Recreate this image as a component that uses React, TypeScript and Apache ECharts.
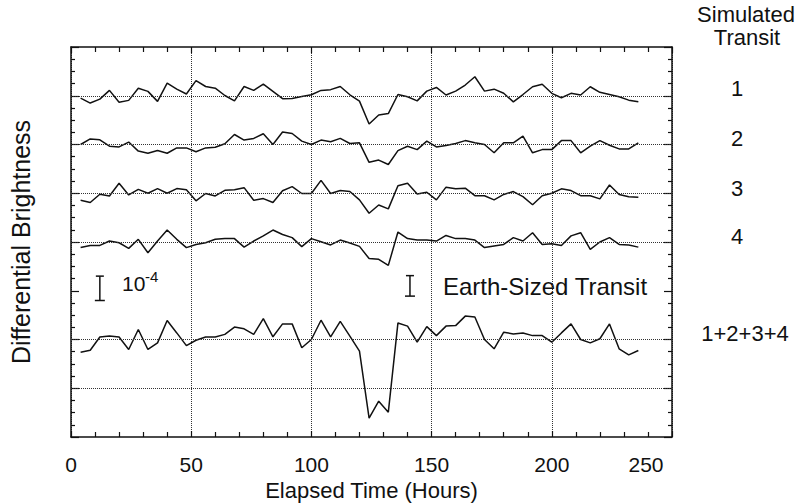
import React, { useEffect, useRef } from "react";
import * as echarts from "echarts";

// Elapsed time of each sample (hours)
const hours = [4, 8, 12, 16, 20, 24, 28, 32, 36, 40, 44, 48, 52, 56, 60, 64, 68, 72, 76, 80, 84, 88, 92, 96, 100, 104, 108, 112, 116, 120, 124, 128, 132, 136, 140, 144, 148, 152, 156, 160, 164, 168, 172, 176, 180, 184, 188, 192, 196, 200, 204, 208, 212, 216, 220, 224, 228, 232, 236];

// Brightness deviations (units of 1e-4) for each simulated transit
const transit1 = [-0.10, -0.30, -0.14, 0.22, -0.27, -0.19, 0.31, 0.18, -0.23, 0.52, 0.27, 0.07, 0.62, 0.38, 0.31, 0.01, -0.21, 0.38, 0.22, 0.48, 0.18, -0.12, -0.11, -0.03, 0.04, 0.22, 0.25, 0.38, 0.04, -0.22, -1.16, -0.79, -0.73, 0.05, -0.04, -0.21, 0.19, 0.34, 0.03, 0.19, 0.44, 0.78, 0.19, 0.27, 0.10, -0.25, 0.05, 0.37, 0.47, 0.10, -0.08, 0.10, 0.03, 0.37, 0.14, 0.05, -0.04, -0.18, -0.25];
const transit2 = [0, 0.23, 0.19, -0.07, -0.10, 0.10, -0.27, -0.36, -0.25, -0.36, -0.14, -0.14, -0.30, -0.14, -0.11, 0.03, 0.41, 0.18, 0.25, 0.44, 0, 0.51, 0.45, 0.14, 0, 0.18, 0.11, 0.25, 0.04, 0.07, -0.73, -0.64, -0.82, -0.25, -0.07, -0.21, 0.14, -0.10, -0.04, 0.04, 0.16, 0.07, 0, -0.34, 0.07, 0.07, 0.34, -0.34, -0.21, -0.21, 0.16, 0.16, -0.34, -0.07, 0.16, -0.03, -0.18, -0.18, 0.07];
const transit3 = [-0.29, -0.38, -0.04, -0.11, 0.41, -0.07, 0.16, 0, 0.19, 0, 0.19, 0.14, -0.31, -0.01, -0.11, 0.12, 0.14, 0.23, -0.29, -0.22, -0.38, 0.10, 0.27, -0.01, -0.01, 0.53, -0.01, 0.11, 0.07, -0.27, -0.82, -0.48, -0.64, 0.31, 0.41, -0.03, 0.04, -0.27, 0.25, 0.18, 0.21, -0.10, -0.10, -0.27, -0.05, 0.07, -0.14, -0.47, -0.10, 0, 0.18, 0.11, -0.10, -0.10, -0.23, 0.34, -0.05, -0.14, -0.16];
const transit4 = [-0.23, -0.14, -0.14, 0.04, -0.03, -0.26, 0.11, -0.44, 0.04, 0.49, 0.11, -0.23, -0.10, -0.03, 0.11, 0.14, 0.14, -0.21, 0.04, 0.25, 0.49, 0.31, 0.18, -0.19, 0.14, 0.01, -0.12, 0.08, -0.04, -0.18, -0.68, -0.71, -0.96, 0.41, 0.14, 0.08, 0.08, 0.04, 0.27, 0.14, 0.14, 0.08, -0.23, -0.16, -0.10, 0.18, 0.04, 0.38, -0.10, -0.07, -0.14, 0.25, 0.38, -0.30, 0, 0.18, -0.10, -0.12, -0.21];
const transitSum = [-0.52, -0.44, 0.10, 0.14, 0.10, -0.41, 0.41, -0.41, -0.14, 0.78, 0.27, -0.25, -0.03, 0.10, 0.10, 0.21, 0.51, 0.44, 0.21, 0.86, 0.11, 0.64, 0.64, -0.34, 0, 0.79, 0.11, 0.74, 0.14, -0.48, -3.23, -2.53, -2.98, 0.68, 0.55, -0.11, 0.53, 0.16, 0.55, 0.57, 0.96, 0.92, 0, -0.38, 0.30, 0.23, 0.27, 0.16, 0.16, -0.11, 0.27, 0.64, 0, -0.14, 0.03, 0.64, -0.38, -0.63, -0.45];

const seriesNames = ["1", "2", "3", "4", "1+2+3+4"];
const seriesValues = [transit1, transit2, transit3, transit4, transitSum];
const seriesOffsets = [14, 12, 10, 8, 4];
const referenceLevels = [14, 12, 10, 8, 4, 2];

// Scale bars: [hour, low, high] in units of 1e-4
const scaleBars = [
  [12, 5.6, 6.6],
  [141, 5.78, 6.62],
];

const xTicks = [0, 50, 100, 150, 200, 250];

const FONT = "'Liberation Sans', Arial, Helvetica, sans-serif";
const GRID = { left: 71, top: 47, width: 601, height: 390 };

export default function App() {
  const ref = useRef<HTMLDivElement>(null);

  useEffect(() => {
    if (!ref.current) return;
    const chart = echarts.init(ref.current, undefined, { renderer: "svg" });

    const axisLine = { show: true, onZero: false, lineStyle: { color: "#111", width: 1.5 } };
    const hiddenLine = { show: false, onZero: false };
    const tickStyle = { color: "#111", width: 1.2 };
    const xRange = { type: "value", min: xTicks[0], max: xTicks[xTicks.length - 1], interval: 50 };
    const yRange = { type: "value", min: 0, max: 16, interval: 2 };
    const noLabel = { show: false };
    const noSplit = { show: false };

    // Tick-only axes: placed on the opposite edge so that outward ticks point into the plot
    const xTickAxis = (pos: string) => ({
      ...xRange,
      position: pos,
      offset: -GRID.height,
      axisLine: hiddenLine,
      axisLabel: noLabel,
      splitLine: noSplit,
      axisTick: { show: true, inside: false, length: 6, lineStyle: tickStyle },
      minorTick: { show: true, splitNumber: 5, length: 5, lineStyle: tickStyle },
    });
    const yTickAxis = (pos: string) => ({
      ...yRange,
      position: pos,
      offset: -GRID.width,
      axisLine: hiddenLine,
      axisLabel: noLabel,
      splitLine: noSplit,
      axisTick: { show: true, inside: false, length: 8, lineStyle: tickStyle },
      minorTick: { show: true, splitNumber: 4, length: 4, lineStyle: tickStyle },
    });

    const lineSeries = seriesValues.map((vals, i) => ({
      name: seriesNames[i],
      type: "line",
      xAxisIndex: 0,
      yAxisIndex: 0,
      symbol: "none",
      silent: true,
      lineStyle: { color: "#111", width: 1.5 },
      data: vals.map((v, j) => [hours[j], +(seriesOffsets[i] + v).toFixed(3)]),
      ...(i === 0
        ? {
            markLine: {
              silent: true,
              symbol: ["none", "none"],
              label: { show: false },
              lineStyle: { type: "dotted", color: "#333", width: 1 },
              data: referenceLevels.map((y) => ({ yAxis: y })),
            },
          }
        : {}),
    }));

    const barSeries = {
      type: "custom",
      xAxisIndex: 0,
      yAxisIndex: 0,
      silent: true,
      data: scaleBars,
      renderItem: (params: any, api: any) => {
        const top = api.coord([api.value(0), api.value(2)]);
        const bot = api.coord([api.value(0), api.value(1)]);
        const w = 5;
        const st = { stroke: "#111", lineWidth: 1.5 };
        return {
          type: "group",
          children: [
            { type: "line", shape: { x1: top[0], y1: top[1], x2: bot[0], y2: bot[1] }, style: st },
            { type: "line", shape: { x1: top[0] - w + 1, y1: top[1], x2: top[0] + w - 1, y2: top[1] }, style: st },
            { type: "line", shape: { x1: bot[0] - w, y1: bot[1], x2: bot[0] + w, y2: bot[1] }, style: st },
          ],
        };
      },
    };

    const labelFont = { fontFamily: FONT, fontSize: 22, fill: "#111" };

    chart.setOption({
      animation: false,
      backgroundColor: "#fff",
      grid: { ...GRID, containLabel: false, outerBoundsMode: "none" },
      xAxis: [
        {
          ...xRange,
          position: "bottom",
          name: "Elapsed Time (Hours)",
          nameLocation: "middle",
          nameGap: 40,
          nameTextStyle: { fontFamily: FONT, fontSize: 22, color: "#111" },
          axisLine,
          axisTick: { show: false },
          axisLabel: {
            show: true,
            margin: 17,
            fontFamily: FONT,
            fontSize: 21,
            color: "#111",
            formatter: (v: number) => (v === 250 ? "{last|250}" : String(v)),
            rich: { last: { fontFamily: FONT, fontSize: 21, color: "#111", padding: [0, 52, 0, 0] } },
          },
          splitLine: { show: true, lineStyle: { type: "dotted", color: "#333", width: 1 } },
        },
        { ...xRange, position: "top", axisLine, axisTick: { show: false }, axisLabel: noLabel, splitLine: noSplit },
        xTickAxis("top"),
        xTickAxis("bottom"),
      ],
      yAxis: [
        {
          ...yRange,
          position: "left",
          name: "Differential Brightness",
          nameLocation: "middle",
          nameGap: 38,
          nameTextStyle: { fontFamily: FONT, fontSize: 25, color: "#111" },
          axisLine,
          axisTick: { show: false },
          axisLabel: noLabel,
          splitLine: noSplit,
        },
        { ...yRange, position: "right", axisLine, axisTick: { show: false }, axisLabel: noLabel, splitLine: noSplit },
        yTickAxis("right"),
        yTickAxis("left"),
      ],
      series: [...lineSeries, barSeries],
      graphic: [
        { type: "text", x: 746, y: 14, style: { ...labelFont, text: "Simulated", align: "center", verticalAlign: "middle" } },
        { type: "text", x: 747, y: 37, style: { ...labelFont, text: "Transit", align: "center", verticalAlign: "middle" } },
        { type: "text", x: 737, y: 88, style: { ...labelFont, text: seriesNames[0], align: "center", verticalAlign: "middle" } },
        { type: "text", x: 737, y: 138, style: { ...labelFont, text: seriesNames[1], align: "center", verticalAlign: "middle" } },
        { type: "text", x: 737, y: 188, style: { ...labelFont, text: seriesNames[2], align: "center", verticalAlign: "middle" } },
        { type: "text", x: 737, y: 236, style: { ...labelFont, text: seriesNames[3], align: "center", verticalAlign: "middle" } },
        { type: "text", x: 745, y: 333, style: { ...labelFont, text: seriesNames[4], align: "center", verticalAlign: "middle" } },
        { type: "text", x: 443, y: 286, style: { fontFamily: FONT, fontSize: 24, fill: "#111", text: "Earth-Sized Transit", align: "left", verticalAlign: "middle" } },
        { type: "text", x: 122, y: 283, style: { fontFamily: FONT, fontSize: 21, fill: "#111", text: "10", align: "left", verticalAlign: "middle" } },
        { type: "text", x: 145, y: 276, style: { fontFamily: FONT, fontSize: 15, fill: "#111", text: "-4", align: "left", verticalAlign: "middle" } },
      ],
    });

    return () => chart.dispose();
  }, []);

  return <div ref={ref} style={{ position: "fixed", left: 0, top: 0, width: 802, height: 503 }} />;
}
